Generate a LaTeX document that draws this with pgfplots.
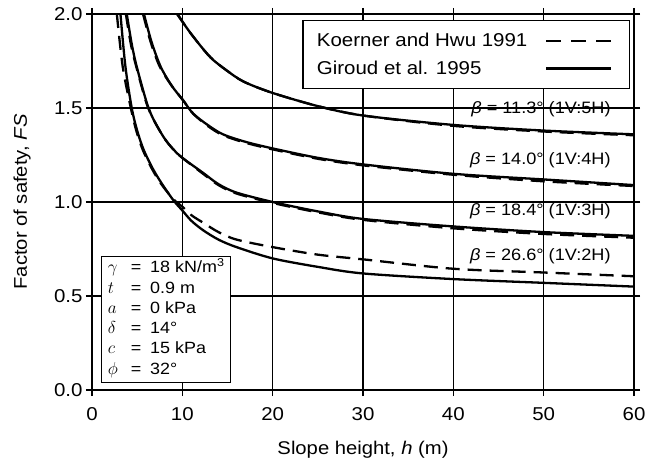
\documentclass[border=0pt]{standalone}
\usepackage{fontspec}
\setmainfont{Liberation Sans}[FakeStretch=1.1]
\usepackage{pgfplots}
\pgfplotsset{compat=1.18}

\begin{document}
\begin{tikzpicture}
\begin{axis}[
    name=ax,
    scale only axis, width=542pt, height=376pt,
    xmin=0, xmax=60, ymin=0, ymax=2,
    xtick={0,10,...,60}, ytick={0,0.5,1,1.5,2},
    grid=major, grid style={black, line width=1.1pt},
    axis line style={line width=1.3pt},
    tick style={black, line width=1.3pt},
    tick align=outside, major tick length=6pt,
    /pgf/number format/assume math mode=true,
    y tick label style={/pgf/number format/fixed, /pgf/number format/fixed zerofill, /pgf/number format/precision=1},
    x tick label style={yshift=-8pt},
    tick label style={font=\fontsize{18.6}{22}\selectfont},
    label style={font=\fontsize{18.4}{22}\selectfont},
    xlabel={Slope height, \textit{h} (m)},
    ylabel={Factor of safety, \textit{FS}},
    x label style={at={(axis description cs:0.5,-0.16)}, anchor=center},
    y label style={at={(axis description cs:-0.129,0.5)}, anchor=center},
    legend plot pos=right,
    legend cell align=left,
    legend style={at={(0.9926,0.984)}, anchor=north east, draw=black, line width=1.2pt,
        fill=white, font=\fontsize{18.6}{22}\selectfont, row sep=9pt, inner xsep=12pt, inner ysep=10.5pt},
    legend image code/.code={\path[draw=none, fill=none] (0pt,0pt) -- (88pt,0pt); \draw[#1, line width=2.2pt] (17pt,0pt) -- (82pt,0pt);},
]
% legend entries
\addlegendimage{black, dash pattern=on 15pt off 10pt}
\addlegendentry{Koerner and Hwu 1991}
\addlegendimage{black}
\addlegendentry{Giroud et al. 1995}

% beta = 11.3
\addplot[black, line width=2.3pt, smooth, forget plot] coordinates {(9.5,2.0) (10,1.96) (11.2,1.88) (13.1,1.77) (14.9,1.70) (16.8,1.64) (20,1.58) (25,1.51) (30,1.46) (40,1.41) (50,1.38) (60,1.36)};
\addplot[black, line width=2.3pt, smooth, dash pattern=on 14pt off 8pt, forget plot] coordinates {(9.4,2.0) (10,1.96) (11.2,1.88) (13.1,1.77) (14.9,1.70) (16.8,1.64) (20,1.58) (25,1.51) (30,1.46) (40,1.405) (50,1.375) (60,1.355)};
% beta = 14.0
\addplot[black, line width=2.3pt, smooth, forget plot] coordinates {(5.75,2.0) (6.6,1.85) (7.6,1.72) (8.8,1.62) (10.1,1.54) (11.2,1.47) (12.8,1.41) (14.5,1.36) (17,1.32) (20,1.285) (25,1.235) (30,1.20) (40,1.15) (50,1.12) (60,1.09)};
\addplot[black, line width=2.3pt, smooth, dash pattern=on 14pt off 8pt, forget plot] coordinates {(5.65,2.0) (6.5,1.85) (7.5,1.72) (8.8,1.62) (10.1,1.54) (11.2,1.47) (12.8,1.405) (14.5,1.355) (17,1.315) (20,1.28) (25,1.23) (30,1.195) (40,1.145) (50,1.11) (60,1.085)};
% beta = 18.4
\addplot[black, line width=2.3pt, smooth, forget plot] coordinates {(3.85,2.0) (4.4,1.84) (4.95,1.72) (6.05,1.53) (6.8,1.44) (8,1.34) (9,1.28) (10,1.235) (12.3,1.155) (14,1.095) (16,1.05) (20,1.0) (25,0.95) (30,0.91) (40,0.87) (50,0.84) (60,0.82)};
\addplot[black, line width=2.3pt, smooth, dash pattern=on 14pt off 8pt, forget plot] coordinates {(3.75,2.0) (4.3,1.84) (4.9,1.72) (6.0,1.53) (6.8,1.44) (8,1.34) (9,1.28) (10,1.235) (12.3,1.15) (14,1.09) (16,1.045) (20,0.995) (25,0.945) (30,0.905) (40,0.86) (50,0.83) (60,0.81)};
% beta = 26.6
\addplot[black, line width=2.3pt, smooth, forget plot] coordinates {(3.15,2.0) (3.7,1.72) (4.4,1.5) (5.0,1.38) (5.7,1.28) (6.7,1.18) (7.7,1.10) (9.0,1.01) (10,0.955) (11,0.90) (12.3,0.85) (14,0.80) (16,0.76) (20,0.70) (25,0.655) (30,0.62) (40,0.59) (50,0.57) (60,0.55)};
\addplot[black, line width=2.3pt, smooth, dash pattern=on 14pt off 8pt, forget plot] coordinates {(2.75,2.0) (3.4,1.72) (4.3,1.5) (4.9,1.38) (5.6,1.28) (6.6,1.18) (7.6,1.10) (9.0,1.015) (10,0.975) (11,0.93) (12.3,0.89) (14,0.84) (16,0.80) (20,0.76) (25,0.72) (30,0.695) (40,0.645) (50,0.625) (60,0.605)};

% curve labels
\node[anchor=east, font=\fontsize{16.5}{20}\selectfont] at (axis cs:57.8,1.495) {\textit{β} = 11.3° (1V:5H)};
\node[anchor=east, font=\fontsize{16.5}{20}\selectfont] at (axis cs:57.8,1.22) {\textit{β} = 14.0° (1V:4H)};
\node[anchor=east, font=\fontsize{16.5}{20}\selectfont] at (axis cs:57.8,0.95) {\textit{β} = 18.4° (1V:3H)};
\node[anchor=east, font=\fontsize{16.5}{20}\selectfont] at (axis cs:57.8,0.71) {\textit{β} = 26.6° (1V:2H)};

% parameter box
\node[anchor=south west, draw=black, fill=white, line width=1.1pt, inner xsep=6pt, inner ysep=2pt,
      font=\fontsize{16.3}{20.3}\selectfont] at (rel axis cs:0.017,0.019)
{\begin{tabular}{@{}l@{\hspace{13pt}}c@{\hspace{9pt}}l@{}}
$\gamma$ & = & 18 kN/m\textsuperscript{3}\\
$t$ & = & 0.9 m\\
$a$ & = & 0 kPa\\
$\delta$ & = & 14°\\
$c$ & = & 15 kPa\\
$\phi$ & = & 32°
\end{tabular}};
\end{axis}
\pgfresetboundingbox
\path[use as bounding box] ([xshift=-92pt,yshift=-76pt]ax.south west) rectangle ([xshift=14pt,yshift=14pt]ax.north east);
\end{tikzpicture}
\end{document}
